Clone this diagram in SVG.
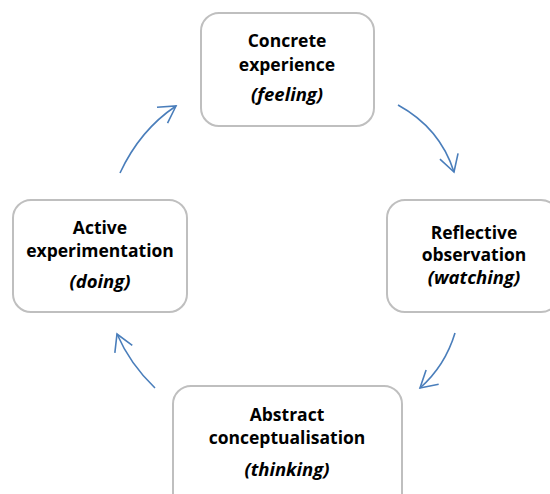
<svg xmlns="http://www.w3.org/2000/svg" width="550" height="494" viewBox="0 0 550 494">
<style>
.box{fill:#ffffff;stroke:#bfbfbf;stroke-width:2}
.t{font-family:"Open Sans","Liberation Sans",Arial,sans-serif;font-weight:bold;font-size:17.5px;fill:#000;text-anchor:middle}
.i{font-style:italic;font-size:18.5px}
.c{fill:none;stroke:#4a7ebb;stroke-width:1.6}
</style>
<defs>
<marker id="ah" markerUnits="userSpaceOnUse" viewBox="-20 -12 24 24" markerWidth="24" markerHeight="24" refX="0" refY="0" orient="auto">
<path d="M-16.5,-9.5 L0,0 L-16.5,9.5" fill="none" stroke="#4a7ebb" stroke-width="1.6"/>
</marker>
</defs>
<g id="connectors">
<path class="c" d="M398,105 Q440,128 454,172" marker-end="url(#ah)"/>
<path class="c" d="M455,333 Q445,366 420,388" marker-end="url(#ah)"/>
<path class="c" d="M155,388 Q130,364 117,334" marker-end="url(#ah)"/>
<path class="c" d="M120,173 Q140,130 176,106" marker-end="url(#ah)"/>
</g>
<g id="concrete">
<rect class="box" x="201" y="13" width="173" height="113" rx="18"/>
<text class="t" x="287" y="47">Concrete</text>
<text class="t" x="287" y="71">experience</text>
<text class="t i" x="287" y="101">(feeling)</text>
</g>
<g id="reflective">
<rect class="box" x="387" y="200" width="172" height="112" rx="18"/>
<text class="t" x="474" y="239">Reflective</text>
<text class="t" x="474" y="261">observation</text>
<text class="t i" x="474" y="284">(watching)</text>
</g>
<g id="active">
<rect class="box" x="13" y="200" width="174" height="112" rx="18"/>
<text class="t" x="100" y="234">Active</text>
<text class="t" x="100" y="257">experimentation</text>
<text class="t i" x="100" y="288">(doing)</text>
</g>
<g id="abstract">
<rect class="box" x="173" y="386" width="229" height="130" rx="18"/>
<text class="t" x="287" y="421">Abstract</text>
<text class="t" x="287" y="444">conceptualisation</text>
<text class="t i" x="287" y="476">(thinking)</text>
</g>
</svg>
